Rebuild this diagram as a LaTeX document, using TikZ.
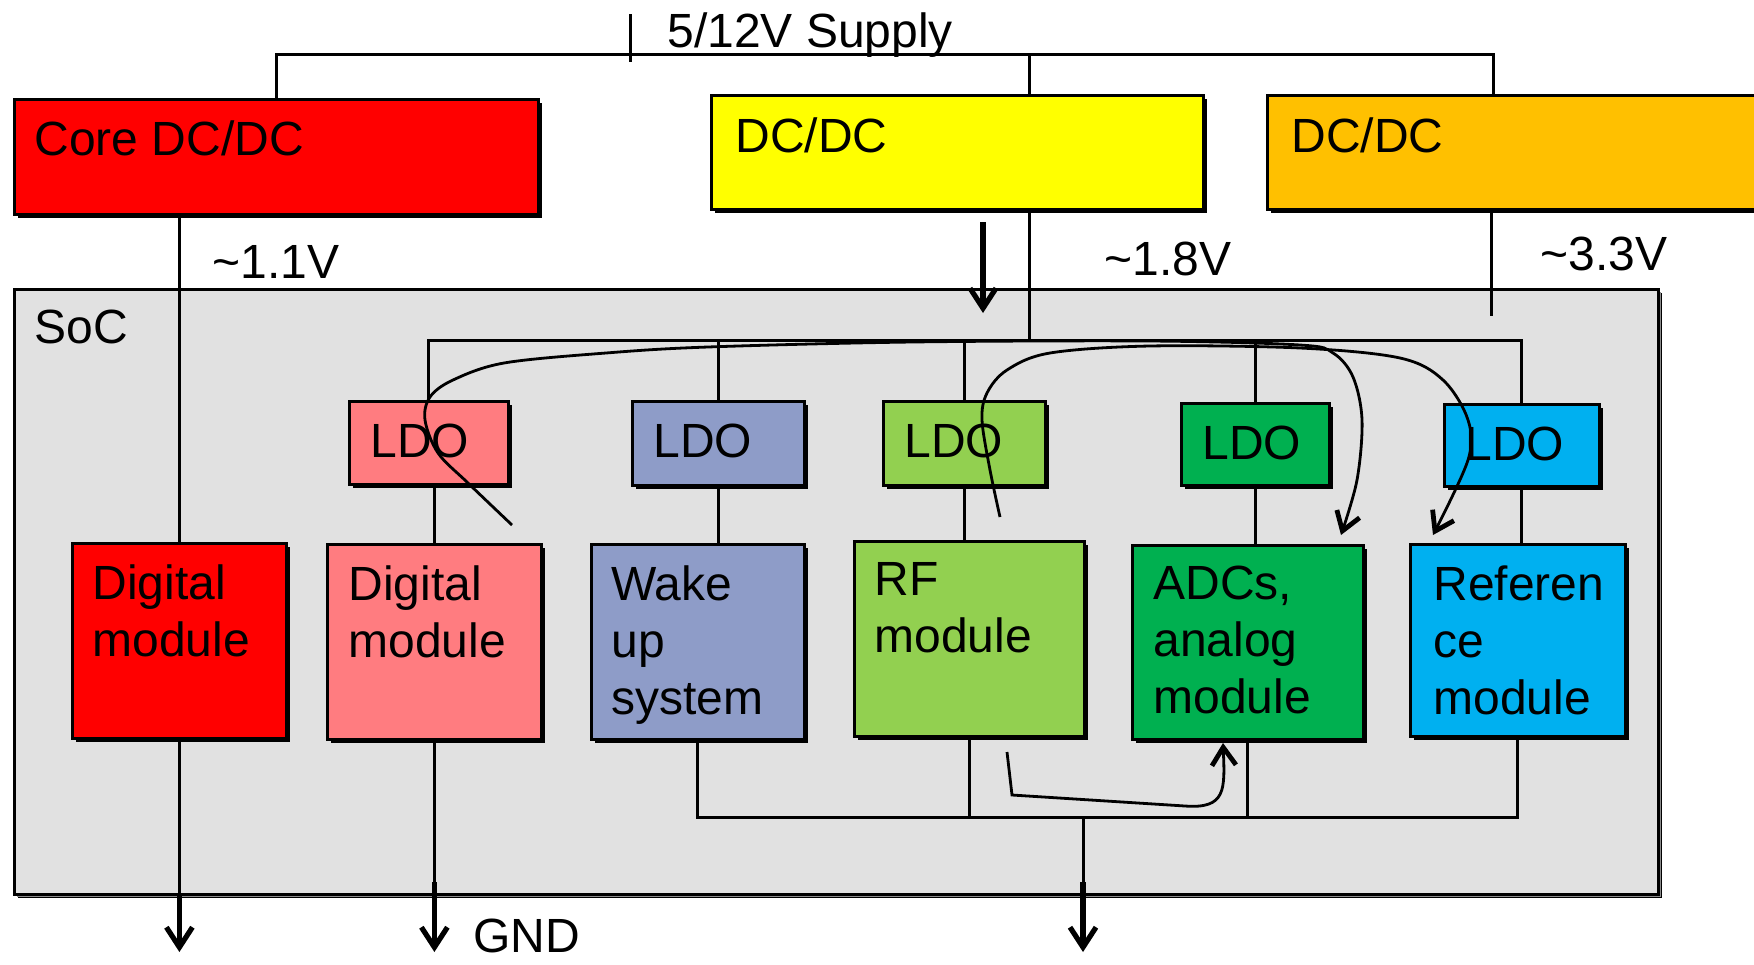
\documentclass[tikz,border=0pt]{standalone}
\usepackage{fontspec}
\setmainfont{Liberation Sans}
\usetikzlibrary{arrows.meta, shadows, calc}

\definecolor{corered}{HTML}{FF0000}
\definecolor{dcyellow}{HTML}{FFFF00}
\definecolor{dcorange}{HTML}{FFC000}
\definecolor{socgrey}{HTML}{E1E1E1}
\definecolor{ldopink}{HTML}{FF7C80}
\definecolor{ldoblue}{HTML}{8E9CC8}
\definecolor{ldolime}{HTML}{92D050}
\definecolor{ldogreen}{HTML}{00B050}
\definecolor{ldocyan}{HTML}{00B0F0}

\begin{document}
\begin{tikzpicture}[x=0.5pt, y=-0.5pt,
    every node/.style={font=\fontsize{24}{28.5}\selectfont},
    box/.style={draw, line width=1.4pt, rectangle, anchor=north west, inner sep=0pt,
      drop shadow={shadow xshift=2pt, shadow yshift=-2pt, opacity=1, fill=black}},
    sz/.style 2 args={minimum width=#1*0.5pt, minimum height=#2*0.5pt},
    wire/.style={line width=1.5pt},
    gnd/.style={line width=2.6pt, -{Straight Barb[length=10pt, width=13pt]}},
    swoop/.style={line width=1.4pt, -{Straight Barb[length=9pt, width=12pt, line width=2.4pt]}},
    lbl/.style={inner sep=0pt, anchor=base west},
    intxt/.style={inner sep=0pt, anchor=north west, align=left}]

    \useasboundingbox (0,0) rectangle (1754,964);
    \clip (0,0) rectangle (1754,964);

    % SoC
    \node[box, fill=socgrey, sz={1644}{605},
      drop shadow={shadow xshift=1.5pt, shadow yshift=-1.5pt, opacity=1, fill=black!45}] (soc) at (13,288) {};
    \node[lbl] at ([shift={(21,55)}]soc.north west) {SoC};

    % DC/DC converters
    \node[box, fill=corered, sz={524}{115}] (core) at (13,98) {};
    \node[box, fill=dcyellow, sz={492}{114}] (dcy) at (710,94) {};
    \node[box, fill=dcorange, sz={600}{114}] (dco) at (1266,94) {};
    \node[lbl] at ([shift={(21,57)}]core.north west) {Core DC/DC};
    \node[lbl] at ([shift={(25,58)}]dcy.north west) {DC/DC};
    \node[lbl] at ([shift={(25,58)}]dco.north west) {DC/DC};

    % Supply
    \coordinate (tapy) at (1029,54);
    \coordinate (tapo) at (1493,54);
    \coordinate (tick) at (630,14);
    \draw[wire] (core.north) |- (tapo) -- (tapo |- dco.north);
    \draw[wire] (tapy) -- (tapy |- dcy.north);
    \draw[wire] (tick) -- ++(0,48);
    \node[lbl] at (667,47) {5/12V Supply};

    \node[lbl] at (212,278) {\textasciitilde1.1V};
    \node[lbl] at (1104,275) {\textasciitilde1.8V};
    \node[lbl] at (1540,270) {\textasciitilde3.3V};

    % LDOs and modules
    \node[box, fill=ldopink, sz={159}{83}] (ldo1) at (348,400) {};
    \node[box, fill=ldoblue, sz={172}{84}] (ldo2) at (631,400) {};
    \node[box, fill=ldolime, sz={162}{84}] (ldo3) at (882,400) {};
    \node[box, fill=ldogreen, sz={148}{82}] (ldo4) at (1180,402) {};
    \node[box, fill=ldocyan, sz={155}{82}] (ldo5) at (1443,403) {};
    \foreach \n in {1,...,5}
      \node[lbl] at ([shift={(22,57)}]ldo\n.north west) {LDO};

    \node[box, fill=corered, sz={214}{195}] (mod1) at (71,542) {};
    \node[box, fill=ldopink, sz={214}{195}] (mod2) at (326,543) {};
    \node[box, fill=ldoblue, sz={213}{195}] (mod3) at (590,543) {};
    \node[box, fill=ldolime, sz={230}{195}] (mod4) at (853,540) {};
    \node[box, fill=ldogreen, sz={231}{194}] (mod5) at (1131,544) {};
    \node[box, fill=ldocyan, sz={215}{192}] (mod6) at (1409,543) {};
    \node[intxt] at ([shift={(21,22)}]mod1.north west) {Digital\\module};
    \node[intxt] at ([shift={(22,22)}]mod2.north west) {Digital\\module};
    \node[intxt] at ([shift={(21,22)}]mod3.north west) {Wake\\up\\system};
    \node[intxt] at ([shift={(21,22)}]mod4.north west) {RF\\module};
    \node[intxt] at ([shift={(22,22)}]mod5.north west) {ADCs,\\analog\\module};
    \node[intxt] at ([shift={(24,22)}]mod6.north west) {Referen\\ce\\module};

    % 1.1V rail
    \draw[wire] (core.south -| mod1.north) -- (mod1.north);

    % 1.8V rail
    \coordinate (ldobus) at (0,340);
    \coordinate (inflow) at (983,222);
    \draw[wire] (tapy |- dcy.south) -- (tapy |- ldobus);
    \draw[wire] (ldo1.north) |- (ldo5.north |- ldobus) -- (ldo5.north);
    \foreach \n in {2,3,4}
      \draw[wire] (ldo\n.north) -- (ldo\n.north |- ldobus);
    \draw[gnd] (inflow) -- ++(0,91);

    % 3.3V rail
    \coordinate (tap3) at (1491,0);
    \draw[wire] (tap3 |- dco.south) -- ++(0,105);

    \draw[wire] (ldo1.south -| mod2.north) -- (mod2.north);
    \foreach \n/\m in {2/3,3/4,4/5,5/6}
      \draw[wire] (ldo\n.south) -- (ldo\n.south |- mod\m.north);

    % Ground
    \coordinate (gbus) at (0,817);
    \coordinate (gtap) at (1083,817);
    \coordinate (thk) at (0,882);
    \coordinate (gtip) at (0,952);
    \draw[wire] (mod3.south) |- (mod6.south |- gbus) -- (mod6.south);
    \foreach \m in {4,5}
      \draw[wire] (mod\m.south) -- (mod\m.south |- gbus);
    \draw[wire] (gtap) -- (gtap |- thk);
    \draw[gnd] (gtap |- thk) -- (gtap |- gtip);
    \draw[wire] (mod1.south) -- (mod1.south |- soc.south);
    \draw[gnd] (mod1.south |- soc.south) -- (mod1.south |- gtip);
    \draw[wire] (mod2.south) -- (mod2.south |- thk);
    \draw[gnd] (mod2.south |- thk) -- (mod2.south |- gtip);
    \node[lbl] at (473,952) {GND};

    % Coupling paths
    \draw[swoop] plot[smooth, tension=0.55] coordinates {(512,525) (468,483) (438,453) (425,420) (430,397)
      (453,380) (504,363) (606,353) (708,347) (912,342) (1150,341) (1300,345) (1333,353) (1353,377)
      (1362,420) (1357,480) (1341,535)};
    \draw[swoop] plot[smooth, tension=0.55] coordinates {(1000,517) (990,470) (982,420) (987,393)
      (1007,370) (1050,353) (1150,346) (1300,348) (1400,358) (1443,380) (1468,420) (1468,460) (1433,535)};
    \draw[swoop] (1007,752) -- (1012,795) -- (1185,806) .. controls (1226,809) and (1225,790) .. (1223,743);
\end{tikzpicture}
\end{document}
